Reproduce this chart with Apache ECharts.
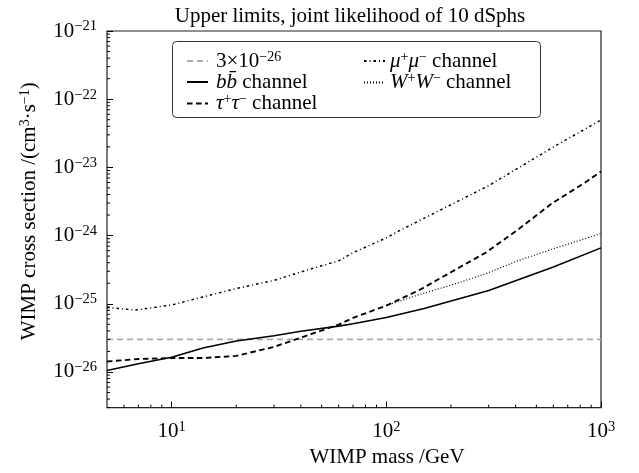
<!DOCTYPE html>
<html>
<head>
<meta charset="utf-8">
<script src="https://cdn.jsdelivr.net/npm/echarts@6/dist/echarts.min.js"></script>
<style>
  html, body { margin: 0; padding: 0; background: #fff; }
  #chart { width: 639px; height: 473px; }
</style>
</head>
<body>
<div id="chart"></div>
<script>
// WIMP annihilation upper limits (joint likelihood of 10 dSphs).
// Both axes are logarithmic: values are kept in physical units and the
// chart plots their base-10 exponents on linear value axes.
const xRange = [5, 1000];          // GeV
const yRange = [3e-27, 1e-21];     // cm^3 s^-1

const refLevel = 3e-26;
const refMass = [5, 1000];

const bbMass = [5, 7, 10, 14, 20, 30, 40, 60, 70, 100, 150, 300, 600, 1000];
const bbSigma = [1.05e-26, 1.32e-26, 1.64e-26, 2.25e-26, 2.85e-26, 3.4e-26, 3.95e-26, 4.7e-26, 5.1e-26, 6.3e-26, 8.5e-26, 1.56e-25, 3.45e-25, 6.6e-25];

const tauMass = [5, 7, 10, 14, 20, 30, 42, 60, 70, 100, 142, 200, 290, 410, 590, 850, 1000];
const tauSigma = [1.42e-26, 1.55e-26, 1.6e-26, 1.6e-26, 1.72e-26, 2.33e-26, 3.36e-26, 4.95e-26, 6.2e-26, 9.4e-26, 1.58e-25, 2.9e-25, 5.6e-25, 1.22e-24, 2.95e-24, 6.1e-24, 8.7e-24];

const muMass = [5, 6.8, 10, 14, 20, 30, 42, 60, 70, 100, 114, 300, 610, 1000];
const muSigma = [8.8e-26, 8.1e-26, 9.6e-26, 1.26e-25, 1.67e-25, 2.2e-25, 3.07e-25, 4.27e-25, 5.6e-25, 9.25e-25, 1.16e-24, 5.4e-24, 2.05e-23, 4.95e-23];

const wwMass = [100, 140, 200, 290, 410, 590, 1000];
const wwSigma = [9.4e-26, 1.34e-25, 1.87e-25, 2.75e-25, 4.27e-25, 6.3e-25, 1.07e-24];

// minor tick positions (2..9 in each decade)
const xMinorTicks = [6, 7, 8, 9, 20, 30, 40, 50, 60, 70, 80, 90, 200, 300, 400, 500, 600, 700, 800, 900];
const yMinorTicks = [3e-27, 4e-27, 5e-27, 6e-27, 7e-27, 8e-27, 9e-27];
for (let e = -26; e <= -22; e++) {
  for (let k = 2; k <= 9; k++) yMinorTicks.push(k * Math.pow(10, e));
}

const lg = Math.log10;
const toLog = (xs, ys) => xs.map((x, i) => [lg(x), lg(ys[i])]);

const legendNames = {
  ref: '{n|3\u00d710}{s|\u221226}',
  bb: '{i|b}{i|b\u0304}{n| channel}',
  tau: '{i|\u03c4}{s|+}{i|\u03c4}{s|\u2212}{n| channel}',
  mu: '{i|\u03bc}{s|+}{i|\u03bc}{s|\u2212}{n| channel}',
  ww: '{i|W}{s|+}{i|W}{s|\u2212}{n| channel}'
};

const serif = 'Liberation Serif';
const richText = {
  n: { fontFamily: serif, fontSize: 21, lineHeight: 22, color: '#000' },
  i: { fontFamily: serif, fontSize: 21, lineHeight: 22, fontStyle: 'italic', color: '#000' },
  s: { fontFamily: serif, fontSize: 14, lineHeight: 10, verticalAlign: 'top', color: '#000' }
};

function powLabel(e) {
  const k = Math.round(e);
  const s = k < 0 ? '\u2212' + (-k) : String(k);
  return '{b|10}{s|' + s + '}';
}
const tickRich = {
  b: { fontFamily: serif, fontSize: 21, lineHeight: 24, color: '#000' },
  s: { fontFamily: serif, fontSize: 14.5, lineHeight: 12, verticalAlign: 'top', color: '#000' }
};

const minorData = xMinorTicks.map(v => [lg(v), lg(yRange[0]), 1])
  .concat(yMinorTicks.map(v => [lg(xRange[0]), lg(v), 0]));

const chart = echarts.init(document.getElementById('chart'), null, { renderer: 'canvas' });
chart.setOption({
  animation: false,
  backgroundColor: '#fff',
  title: {
    text: 'Upper limits, joint likelihood of 10 dSphs',
    left: 345, top: 1, textAlign: 'center',
    textStyle: { fontFamily: serif, fontSize: 21, fontWeight: 'normal', color: '#000' }
  },
  grid: {
    left: 107, right: 38, top: 31, bottom: 60,
    show: true, borderColor: '#222', borderWidth: 1.2, backgroundColor: 'transparent'
  },
  xAxis: {
    type: 'value', min: lg(xRange[0]), max: lg(xRange[1]), minInterval: 1, maxInterval: 1,
    name: 'WIMP mass /GeV', nameLocation: 'middle', nameGap: 34,
    nameTextStyle: { fontFamily: serif, fontSize: 21, color: '#000', padding: [0, 0, 0, 66] },
    axisLine: { show: false },
    axisTick: { inside: true, length: 6, lineStyle: { color: '#000', width: 1 } },
    splitLine: { show: false },
    axisLabel: { showMinLabel: false, showMaxLabel: true, margin: 12, formatter: powLabel, rich: tickRich }
  },
  yAxis: {
    type: 'value', min: lg(yRange[0]), max: lg(yRange[1]), minInterval: 1, maxInterval: 1,
    name: '{n|WIMP cross section /(cm}{s|3}{n|\u00b7s}{s|\u22121}{n|)}',
    nameLocation: 'middle', nameGap: 67, nameRotate: 90,
    nameTextStyle: { rich: richText, padding: [0, 0, 0, 16] },
    axisLine: { show: false },
    axisTick: { inside: true, length: 6, lineStyle: { color: '#000', width: 1 } },
    splitLine: { show: false },
    axisLabel: { showMinLabel: false, showMaxLabel: true, margin: 10, formatter: powLabel, rich: tickRich }
  },
  legend: [
    {
      orient: 'vertical', left: 181, top: 45, itemWidth: 21, itemHeight: 12, itemGap: 0,
      data: ['ref', 'bb', 'tau'],
      formatter: n => legendNames[n],
      itemStyle: { opacity: 0 },
      textStyle: { rich: richText, padding: [0, 0, 0, 3] },
      selectedMode: false
    },
    {
      orient: 'vertical', left: 358, top: 45, itemWidth: 21, itemHeight: 12, itemGap: 0,
      data: ['mu', 'ww'],
      formatter: n => legendNames[n],
      itemStyle: { opacity: 0 },
      textStyle: { rich: richText },
      selectedMode: false
    }
  ],
  graphic: [{
    type: 'rect', left: 170, top: 39, z: 100, silent: true,
    shape: { width: 368, height: 76, r: 4 },
    style: { fill: 'none', stroke: '#333', lineWidth: 1 }
  }],
  series: [
    {
      name: 'ref', type: 'line', data: toLog(refMass, refMass.map(() => refLevel)),
      symbol: 'none', color: '#aaaaaa',
      lineStyle: { color: '#aaaaaa', width: 1.6, type: [6, 4] }, z: 2
    },
    {
      name: 'bb', type: 'line', data: toLog(bbMass, bbSigma), symbol: 'none', color: '#000',
      lineStyle: { color: '#000', width: 1.6, type: 'solid' }, z: 3
    },
    {
      name: 'tau', type: 'line', data: toLog(tauMass, tauSigma), symbol: 'none', color: '#000',
      lineStyle: { color: '#000', width: 1.9, type: [5.5, 3.5] }, z: 3
    },
    {
      name: 'mu', type: 'line', data: toLog(muMass, muSigma), symbol: 'none', color: '#000',
      lineStyle: { color: '#000', width: 1.5, type: [2.5, 3, 1, 3] }, z: 3
    },
    {
      name: 'ww', type: 'line', data: toLog(wwMass, wwSigma), symbol: 'none', color: '#000',
      lineStyle: { color: '#000', width: 1.2, type: [1, 2] }, z: 3
    },
    {
      name: 'minorTicks', type: 'custom', silent: true, clip: false, z: 4,
      data: minorData,
      renderItem: function (params, api) {
        const p = api.coord([api.value(0), api.value(1)]);
        const onXAxis = api.value(2) === 1;
        return {
          type: 'line',
          shape: onXAxis
            ? { x1: p[0], y1: p[1], x2: p[0], y2: p[1] - 3 }
            : { x1: p[0], y1: p[1], x2: p[0] + 3, y2: p[1] },
          style: { stroke: '#000', lineWidth: 1 }
        };
      }
    }
  ]
});
</script>
</body>
</html>
